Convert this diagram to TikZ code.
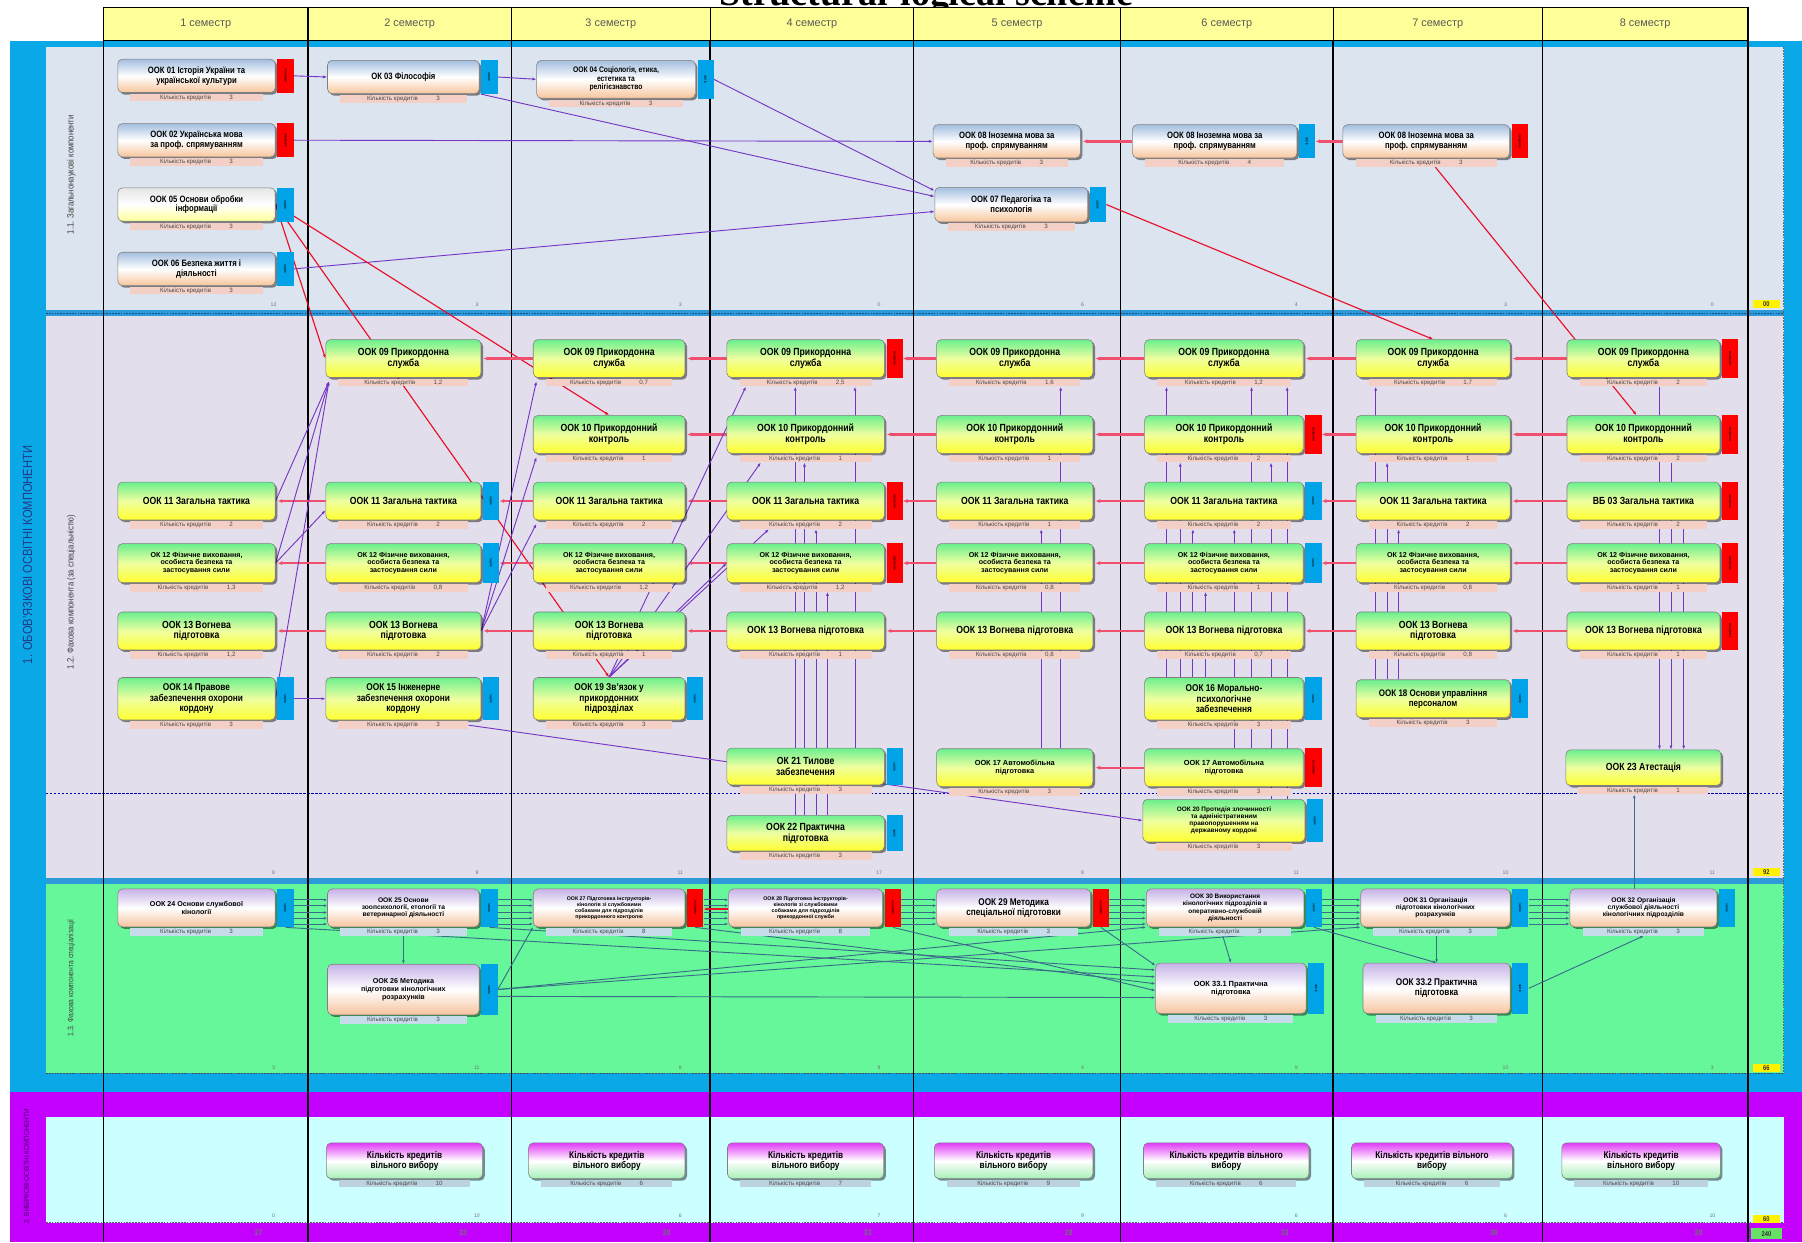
\documentclass[tikz,border=0pt]{standalone}
\usepackage{fontspec}
\usepackage{graphicx}
\setmainfont{Liberation Sans}
\newfontfamily\nf[FakeStretch=0.84]{Liberation Sans}
\newfontfamily\tfont{Liberation Serif}
\usetikzlibrary{arrows.meta,shadows,calc}
\pgfdeclarelayer{back}
\pgfdeclarelayer{lines}
\pgfsetlayers{back,lines,main}
\definecolor{colFrame}{HTML}{0AA8E6}
\definecolor{colA}{HTML}{DCE4EF}
\definecolor{colB}{HTML}{E3DEEC}
\definecolor{colC}{HTML}{66F79A}
\definecolor{colPurp}{HTML}{C400FF}
\definecolor{colD}{HTML}{CCFFFF}
\definecolor{colSep}{HTML}{2C9AD8}
\definecolor{colSepD}{HTML}{1A4F8A}
\definecolor{colHdr}{HTML}{FFFF99}
\definecolor{colLab}{HTML}{1F3C88}
\definecolor{colLab2}{HTML}{4A0066}
\definecolor{tagred}{HTML}{FF0000}
\definecolor{tagblue}{HTML}{00A2E8}
\definecolor{lnpurp}{HTML}{7436C4}
\definecolor{lnred}{HTML}{E8102A}
\definecolor{lnpink}{HTML}{F0506E}
\definecolor{lndark}{HTML}{3A6C8A}
\definecolor{cAtop}{HTML}{A3BEDF}
\definecolor{cAbot}{HTML}{F7C59C}
\definecolor{cBtop}{HTML}{6BEF8E}
\definecolor{cBmid}{HTML}{EFFFA0}
\definecolor{cBbot}{HTML}{FFFF2E}
\definecolor{cCtop}{HTML}{C6B2E6}
\definecolor{cCbot}{HTML}{F6C39E}
\definecolor{cDtop}{HTML}{E03CF5}
\definecolor{cDbot}{HTML}{A6F0B8}
\definecolor{colCredA}{HTML}{F3CFC6}
\definecolor{colCredB}{HTML}{C6DCEA}
\definecolor{colCredV}{HTML}{BCD2DE}
\definecolor{colTotG}{HTML}{66E066}
\newcommand\tagtexte{\rotatebox{-90}{\fontsize{3.2}{3.2}\selectfont екзамен}}
\newcommand\tagtextz{\rotatebox{-90}{\fontsize{3.2}{3.2}\selectfont залік}}
\newcommand\tagtextn{}
\tikzset{
 cbox/.style={rounded corners=4pt, draw=black!50, line width=0.5pt, align=center, inner sep=1pt, text=black,
   font=\nf\bfseries\fontsize{8}{8.6}\selectfont,
   drop shadow={shadow xshift=1.8pt, shadow yshift=-1.8pt, opacity=0.45, fill=black}},
 fs/.style 2 args={font=\nf\bfseries\fontsize{#1}{#2}\selectfont},
 fw/.style 2 args={font=\bfseries\fontsize{#1}{#2}\selectfont},
 genbox/.style={cbox, top color=cAtop, bottom color=cAbot, middle color=white},
 fahbox/.style={cbox, top color=cBtop, bottom color=cBbot, middle color=cBmid},
 spbox/.style={cbox, top color=cCtop, bottom color=cCbot, middle color=white},
 vbbox/.style={cbox, top color=cDtop, bottom color=cDbot, middle color=white},
 g29/.style={genbox, minimum height=29pt},
 f33/.style={fahbox, minimum height=33pt, fs={9}{9.4}},
 f37/.style={fahbox, minimum height=37pt, fs={8.6}{9}},
 f12/.style={fahbox, minimum height=34pt, fw={6.2}{6.8}},
 s33/.style={spbox, minimum height=33pt},
 s44/.style={spbox, minimum height=44pt},
 v31/.style={vbbox, minimum height=31pt, fs={8.5}{9}},
 credA/.style={fill=colCredA, inner sep=0.3pt, minimum height=6.5pt, font=\fontsize{5.4}{5.4}\selectfont, text=black!70},
 credB/.style={credA, fill=colCredB},
 credV/.style={credA, fill=colCredV},
 tage/.style={fill=tagred, inner sep=0pt, minimum width=14pt},
 tagz/.style={fill=tagblue, inner sep=0pt, minimum width=14pt},
 tagn/.style={inner sep=0pt, minimum width=0pt},
 hdrcell/.style={fill=colHdr, draw=black, line width=1pt, minimum height=29pt, font=\fontsize{9.5}{9.5}\selectfont, text=black!65},
 tot/.style={fill=yellow, inner sep=0.4pt, minimum width=24pt, minimum height=7pt, font=\nf\bfseries\fontsize{6}{6}\selectfont, text=black!80},
 cn/.style={font=\fontsize{4.5}{4.5}\selectfont, text=black!55, inner sep=0pt},
 bn/.style={font=\nf\bfseries\fontsize{7}{7}\selectfont, text=black!55, inner sep=0pt},
 pl/.style={draw=lnpurp, line width=0.8pt, -{Latex[length=3.5pt,width=2.6pt]}},
 rl/.style={draw=lnred, line width=1pt, -{Latex[length=3.5pt,width=2.8pt]}},
 rh/.style={draw=lnpink, line width=2pt, -{Latex[length=4pt,width=3.6pt]}},
 dl/.style={draw=lndark, line width=0.8pt, -{Latex[length=3pt,width=2.4pt]}},
 vlab/.style={rotate=90, inner sep=0pt}
}
% name, node style, strip style, x, y, width, text, credits, tag
\newcommand\crs[9]{%
 \node[#2, minimum width=#6pt] (#1) at (#4,#5) {#7};
 \node[#3, minimum width=#6pt-22pt, anchor=north] (#1c) at ([yshift=-0.8pt]#1.south) {Кількість кредитів\hspace{16pt}#8};
 \path let \p1=($(#1.north)-(#1.south)$) in node[tag#9, minimum height=\y1, anchor=west] (#1t) at ([xshift=1.5pt]#1.east) {\csname tagtext#9\endcsname};
}
\begin{document}
\begin{tikzpicture}[x=1pt,y=-1pt]
\useasboundingbox (0,0) rectangle (1568,1081);
\begin{pgfonlayer}{back}
 \fill[white] (0,0) rectangle (1568,1081);
 \fill[colFrame] (9,36) rectangle (1568,950);
 \fill[colA] (40,41) rectangle (1552,270);
 \fill[colSep] (40,270) rectangle (1552,275);
 \draw[colSepD, line width=0.7pt, dash pattern=on 1.5pt off 1pt] (40,272.5) -- (1552,272.5);
 \fill[colB] (40,275) rectangle (1552,764);
 \draw[blue!70!black, line width=0.5pt, dash pattern=on 2pt off 1.5pt] (40,690) -- (1552,690);
 \fill[colSep] (40,764) rectangle (1552,769);
 \fill[colC] (40,769) rectangle (1552,934);
 \draw[black!70, line width=0.6pt, dash pattern=on 1.5pt off 1pt] (40,934) -- (1552,934);
 \fill[colPurp] (9,950) rectangle (1568,1081);
 \fill[colD] (40,972) rectangle (1552,1064);
 \draw[black!60, line width=0.6pt, dash pattern=on 1.5pt off 1pt] (40,1064) -- (1552,1064);
 \draw[black!60, line width=0.5pt, dash pattern=on 1.5pt off 1pt] (1552,41) -- (1552,934);
 \foreach \xx in {90,268,445,618,795,975,1160,1342,1521} \draw[black, line width=1.3pt] (\xx,6) -- (\xx,1081);
\end{pgfonlayer}

% title (cut by the top edge)
\node[font=\tfont\bfseries\fontsize{33}{33}\selectfont, anchor=base, inner sep=0pt] (title) at (806,5) {Structural-logical scheme};

% header
\foreach \i/\xa/\xb in {1/90/268,2/268/445,3/445/618,4/618/795,5/795/975,6/975/1160,7/1160/1342,8/1342/1521}
 \node[hdrcell, minimum width=\xb-\xa] (s\i) at ({(\xa+\xb)/2},21) {\i\ семестр};

% section labels
\node[vlab, font=\nf\fontsize{11.5}{12}\selectfont, text=colLab] (L1) at (24,483) {1. ОБОВ’ЯЗКОВІ ОСВІТНІ КОМПОНЕНТИ};
\node[vlab, font=\nf\fontsize{8}{8}\selectfont, text=black!75] (L11) at (62,152) {1.1. Загальнонаукові компоненти};
\node[vlab, font=\nf\fontsize{8}{8}\selectfont, text=black!75] (L12) at (62,515) {1.2. Фахова компонента (за спеціальністю)};
\node[vlab, font=\nf\fontsize{7}{7}\selectfont, text=black!75] (L13) at (62,851) {1.3. Фахова компонента спеціалізації};
\node[vlab, font=\nf\fontsize{6.5}{6.5}\selectfont, text=colLab2] (L2) at (23,1015) {2. ВИБІРКОВІ ОСВІТНІ КОМПОНЕНТИ};

% ---------- 1.1
\crs{k01}{g29}{credA}{171}{66}{137}{ООК 01 Історія України та\\української культури}{3}{e}
\crs{k02}{g29}{credA}{171}{122}{137}{ООК 02 Українська мова\\за проф. спрямуванням}{3}{e}
\crs{k05}{g29, top color=black!10, bottom color=yellow!40, middle color=white}{credA}{171}{178}{137}{ООК 05 Основи обробки\\інформації}{3}{z}
\crs{k06}{g29}{credA}{171}{234}{137}{ООК 06 Безпека життя і\\діяльності}{3}{z}
\crs{k03}{g29}{credA}{351}{67}{132}{ОК 03 Філософія}{3}{z}
\crs{k04}{genbox, minimum height=33pt, fs={7}{7.5}}{credA}{536}{69}{138}{ООК 04 Соціологія, етика,\\естетика та\\релігієзнавство}{3}{z}
\crs{k08a}{g29}{credA}{876}{123}{128}{ООК 08 Іноземна мова за\\проф. спрямуванням}{3}{n}
\crs{k07}{genbox, minimum height=30pt}{credA}{880}{178}{133}{ООК 07 Педагогіка та\\психологія}{3}{z}
\crs{k08b}{g29}{credA}{1057}{123}{143}{ООК 08 Іноземна мова за\\проф. спрямуванням}{4}{z}
\crs{k08c}{g29}{credA}{1241}{123}{145}{ООК 08 Іноземна мова за\\проф. спрямуванням}{3}{e}

% ---------- 1.2 row 09
\crs{a2}{f33}{credA}{351}{312}{135}{ООК 09 Прикордонна\\служба}{1,2}{n}
\crs{a3}{f33}{credA}{530}{312}{132}{ООК 09 Прикордонна\\служба}{0,7}{n}
\crs{a4}{f33}{credA}{701}{312}{137}{ООК 09 Прикордонна\\служба}{2,5}{e}
\crs{a5}{f33}{credA}{883}{312}{136}{ООК 09 Прикордонна\\служба}{1,6}{n}
\crs{a6}{f33}{credA}{1065}{312}{138}{ООК 09 Прикордонна\\служба}{1,2}{n}
\crs{a7}{f33}{credA}{1247}{312}{134}{ООК 09 Прикордонна\\служба}{1,7}{n}
\crs{a8}{f33}{credA}{1430}{312}{133}{ООК 09 Прикордонна\\служба}{2}{e}
% row 10
\crs{b3}{f33}{credA}{530}{378}{132}{ООК 10 Прикордонний\\контроль}{1}{n}
\crs{b4}{f33}{credA}{701}{378}{137}{ООК 10 Прикордонний\\контроль}{1}{n}
\crs{b5}{f33}{credA}{883}{378}{136}{ООК 10 Прикордонний\\контроль}{1}{n}
\crs{b6}{f33}{credA}{1065}{378}{138}{ООК 10 Прикордонний\\контроль}{2}{e}
\crs{b7}{f33}{credA}{1247}{378}{134}{ООК 10 Прикордонний\\контроль}{1}{n}
\crs{b8}{f33}{credA}{1430}{378}{133}{ООК 10 Прикордонний\\контроль}{2}{e}
% row 11
\crs{c1}{f33}{credA}{171}{436}{137}{ООК 11 Загальна тактика}{2}{n}
\crs{c2}{f33}{credA}{351}{436}{135}{ООК 11 Загальна тактика}{2}{z}
\crs{c3}{f33}{credA}{530}{436}{132}{ООК 11 Загальна тактика}{2}{n}
\crs{c4}{f33}{credA}{701}{436}{137}{ООК 11 Загальна тактика}{2}{e}
\crs{c5}{f33}{credA}{883}{436}{136}{ООК 11 Загальна тактика}{1}{n}
\crs{c6}{f33}{credA}{1065}{436}{138}{ООК 11 Загальна тактика}{2}{z}
\crs{c7}{f33}{credA}{1247}{436}{134}{ООК 11 Загальна тактика}{2}{n}
\crs{c8}{f33}{credA}{1430}{436}{133}{ВБ 03 Загальна тактика}{2}{e}
% row 12
\crs{d1}{f12}{credA}{171}{490}{137}{ОК 12 Фізичне виховання,\\особиста безпека та\\застосування сили}{1,3}{n}
\crs{d2}{f12}{credA}{351}{490}{135}{ОК 12 Фізичне виховання,\\особиста безпека та\\застосування сили}{0,8}{z}
\crs{d3}{f12}{credA}{530}{490}{132}{ОК 12 Фізичне виховання,\\особиста безпека та\\застосування сили}{1,2}{n}
\crs{d4}{f12}{credA}{701}{490}{137}{ОК 12 Фізичне виховання,\\особиста безпека та\\застосування сили}{1,2}{e}
\crs{d5}{f12}{credA}{883}{490}{136}{ОК 12 Фізичне виховання,\\особиста безпека та\\застосування сили}{0,8}{n}
\crs{d6}{f12}{credA}{1065}{490}{138}{ОК 12 Фізичне виховання,\\особиста безпека та\\застосування сили}{1}{z}
\crs{d7}{f12}{credA}{1247}{490}{134}{ОК 12 Фізичне виховання,\\особиста безпека та\\застосування сили}{0,8}{n}
\crs{d8}{f12}{credA}{1430}{490}{133}{ОК 12 Фізичне виховання,\\особиста безпека та\\застосування сили}{1}{e}
% row 13
\crs{e1}{f33}{credA}{171}{549}{137}{ООК 13 Вогнева\\підготовка}{1,2}{n}
\crs{e2}{f33}{credA}{351}{549}{135}{ООК 13 Вогнева\\підготовка}{2}{n}
\crs{e3}{f33}{credA}{530}{549}{132}{ООК 13 Вогнева\\підготовка}{1}{n}
\crs{e4}{f33}{credA}{701}{549}{137}{ООК 13 Вогнева підготовка}{1}{n}
\crs{e5}{f33}{credA}{883}{549}{136}{ООК 13 Вогнева підготовка}{0,8}{n}
\crs{e6}{f33}{credA}{1065}{549}{138}{ООК 13 Вогнева підготовка}{0,7}{n}
\crs{e7}{f33}{credA}{1247}{549}{134}{ООК 13 Вогнева\\підготовка}{0,8}{n}
\crs{e8}{f33}{credA}{1430}{549}{133}{ООК 13 Вогнева підготовка}{1}{e}
% other rows
\crs{f14}{f37}{credA}{171}{608}{137}{ООК 14 Правове\\забезпечення охорони\\кордону}{3}{z}
\crs{f16}{f37}{credA}{351}{608}{135}{ООК 15 Інженерне\\забезпечення охорони\\кордону}{3}{z}
\crs{f19}{f37}{credA}{530}{608}{132}{ООК 19 Зв’язок у\\прикордонних\\підрозділах}{3}{z}
\crs{f16m}{f37}{credA}{1065}{608}{138}{ООК 16 Морально-\\психологічне\\забезпечення}{3}{z}
\crs{f18}{f33, fs={8.3}{8.8}}{credA}{1247}{608}{134}{ООК 18 Основи управління\\персоналом}{3}{z}
\crs{g21}{fahbox, minimum height=32pt, fs={9}{9.4}}{credA}{701}{667}{137}{ОК 21 Тилове\\забезпечення}{3}{z}
\crs{h22}{fahbox, minimum height=31pt, fs={9}{9.4}}{credA}{701}{725}{137}{ООК 22 Практична\\підготовка}{3}{z}
\crs{g17a}{fahbox, minimum height=33pt, fw={6.4}{7}}{credA}{883}{668}{136}{ООК 17 Автомобільна\\підготовка}{3}{n}
\crs{g17b}{fahbox, minimum height=33pt, fw={6.4}{7}}{credA}{1065}{668}{138}{ООК 17 Автомобільна\\підготовка}{3}{e}
\crs{h20}{fahbox, minimum height=37pt, fw={5.6}{6.2}}{credA}{1065}{714}{141}{ООК 20 Протидія злочинності\\та адміністративним\\правопорушенням на\\державному кордоні}{3}{z}
\crs{g20}{fahbox, minimum height=31pt, fs={9}{9.4}}{credA}{1430}{668}{135}{ООК 23 Атестація}{1}{n}

% ---------- 1.3
\crs{m24}{s33, fw={6.2}{7}}{credB}{171}{790}{137}{ООК 24 Основи службової\\кінології}{3}{z}
\crs{m25}{s33, fw={5.8}{6.4}}{credB}{351}{790}{132}{ООК 25 Основи\\зоопсихології, етології та\\ветеринарної діяльності}{3}{z}
\crs{m26}{s44, fw={6.2}{7}}{credB}{351}{861}{132}{ООК 26 Методика\\підготовки кінологічних\\розрахунків}{3}{z}
\crs{m27}{s33, fw={4.6}{5.1}}{credB}{530}{790}{132}{ООК 27 Підготовка інструкторів-\\кінологів зі службовими\\собаками для підрозділів\\прикордонного контролю}{8}{e}
\crs{m28}{s33, fw={4.6}{5.1}}{credB}{701}{790}{134}{ООК 28 Підготовка інструкторів-\\кінологів зі службовими\\собаками для підрозділів\\прикордонної служби}{8}{e}
\crs{m29}{s33, fs={8.5}{9}}{credB}{882}{790}{134}{ООК 29 Методика\\спеціальної підготовки}{3}{e}
\crs{m30}{s33, fw={5.6}{6.2}}{credB}{1066}{790}{137}{ООК 30 Використання\\кінологічних підрозділів в\\оперативно-службовій\\діяльності}{3}{z}
\crs{m31}{s33, fw={5.8}{6.4}}{credB}{1249}{790}{130}{ООК 31 Організація\\підготовки кінологічних\\розрахунків}{3}{z}
\crs{m32}{s33, fw={5.8}{6.4}}{credB}{1430}{790}{128}{ООК 32 Організація\\службової діяльності\\кінологічних підрозділів}{3}{z}
\crs{m331}{s44, fw={6.5}{7.2}}{credB}{1071}{860}{131}{ООК 33.1 Практична\\підготовка}{3}{z}
\crs{m332}{s44, fs={8.5}{9}}{credB}{1250}{860}{128}{ООК 33.2 Практична\\підготовка}{3}{z}

% ---------- 2
\crs{v2}{v31}{credV}{352}{1010}{136}{Кількість кредитів\\вільного вибору}{10}{n}
\crs{v3}{v31}{credV}{528}{1010}{136}{Кількість кредитів\\вільного вибору}{6}{n}
\crs{v4}{v31}{credV}{701}{1010}{136}{Кількість кредитів\\вільного вибору}{7}{n}
\crs{v5}{v31}{credV}{882}{1010}{138}{Кількість кредитів\\вільного вибору}{9}{n}
\crs{v6}{v31}{credV}{1067}{1010}{144}{Кількість кредитів вільного\\вибору}{6}{n}
\crs{v7}{v31}{credV}{1246}{1010}{140}{Кількість кредитів вільного\\вибору}{6}{n}
\crs{v8}{v31}{credV}{1428}{1010}{138}{Кількість кредитів\\вільного вибору}{10}{n}

% totals
\node[tot] (T1) at (1537,264.5) {00};
\node[tot] (T2) at (1537,759) {92};
\node[tot] (T3) at (1537,929) {66};
\node[tot] (T4) at (1537,1060.5) {60};
\node[tot, fill=colTotG, minimum width=27pt, minimum height=10pt] (T5) at (1537,1073.5) {240};

% column numbers
\foreach \xx/\va/\vb/\vc/\vd [count=\i] in {238/12/8/3/0, 415/3/9/11/10, 592/3/11/8/6, 765/0/17/8/7, 942/6/8/4/9, 1128/4/11/9/6, 1310/3/10/10/6, 1490/0/11/3/10} {
 \node[cn] (Na\i) at (\xx,265) {\va};
 \node[cn] (Nb\i) at (\xx,759) {\vb};
 \node[cn] (Nc\i) at (\xx,929) {\vc};
 \node[cn] (Nd\i) at (\xx,1058) {\vd};
}
\foreach \xx/\vv [count=\i] in {225/27, 403/33, 580/28, 755/33, 930/28, 1118/33, 1300/30, 1478/28}
 \node[bn] (B\i) at (\xx,1073) {\vv};

% ---------- connectors
\begin{pgfonlayer}{lines}
 % 1.1
 \draw[pl] (k01t.east) -- (k03.west);
 \draw[pl] (k03t.east) -- (k04.west);
 \draw[pl] (k02t.east) -- (k08a.west);
 \draw[pl] (k03t.south west) -- ([yshift=7pt]k07.west);
 \draw[pl] (k04t.east) -- ([yshift=12pt]k07.west);
 \draw[pl] (k06t.east) -- ([yshift=-6pt]k07.west);
 \draw[rh] (k08b.west) -- (k08at.east);
 \draw[rh] (k08c.west) -- (k08bt.east);
 % red diagonals
 \draw[rl] (k05.east) -- (a2.west);
 \draw[rl] (k05.east) -- (f19.north);
 \draw[rl] (k05.east) -- (b3.north);
 \draw[rl] (k07t.east) -- (a7.north);
 \draw[rl] ([xshift=8pt]k08cc.south) -- ([xshift=-6pt]b8.north);
 % red chains
 \foreach \ca/\cb in {2/3,3/4,4/5,5/6,6/7,7/8} \draw[rh] (a\cb.west) -- (a\ca t.east);
 \foreach \ca/\cb in {3/4,4/5,5/6,6/7,7/8} \draw[rh] (b\cb.west) -- (b\ca t.east);
 \foreach \rr in {c,d,e}
  \foreach \ca/\cb in {1/2,2/3,3/4,4/5,5/6,6/7,7/8} \draw[rh] (\rr\cb.west) -- (\rr\ca t.east);
 \draw[rh] (g17b.west) -- (g17at.east);
 % purple diagonals 1.2
 \coordinate (a2sw) at ([xshift=3pt,yshift=-3pt]a2.south west);
 \draw[pl] (c1.east) -- (a2sw);
 \draw[pl] (d1.east) -- (a2sw);
 \draw[pl] (f14.east) -- (a2sw);
 \draw[pl] (d1.east) -- ([yshift=-8pt]c2.west);
 \draw[pl] (f14t.east) -- (f16.west);
 \draw[pl] (f16c.east) -- (h20.west);
 \draw[pl] (e2.east) -- ([xshift=3pt,yshift=-3pt]a3.south west);
 \draw[pl] (e2.east) -- ([xshift=3pt,yshift=-3pt]b3.south west);
 \draw[pl] (e2.east) -- ([xshift=3pt,yshift=-3pt]c3.south west);
 \draw[pl] (f19.north) -- ([xshift=-52pt]a4c.south);
 \draw[pl] (f19.north) -- ([xshift=-39pt]b4c.south);
 \draw[pl] (f19.north) -- ([xshift=-32pt]c4c.south);
 \draw[pl] (f19.north) -- (d4.west);
 % verticals
 \foreach \dx/\tg in {-9/a4c,-1/b4c,9/c4c,19/d4c} \draw[pl] ([xshift=\dx pt]h22.north) -- ([xshift=\dx pt]\tg.south);
 \draw[pl] ([xshift=43pt]g21.north) -- ([xshift=43pt]a4c.south);
 \draw[pl] ([xshift=40pt]g17a.north) -- ([xshift=40pt]a5c.south);
 \draw[pl] ([xshift=23pt]g17a.north) -- ([xshift=23pt]c5c.south);
 \foreach \dx/\tg in {-50/a6c,-38/b6c,-27/c6c,-16/d6c} \draw[pl] ([xshift=\dx pt]f16m.north) -- ([xshift=\dx pt]\tg.south);
 \foreach \dx/\tg in {9/c6c,24/a6c} \draw[pl] ([xshift=\dx pt]g17b.north) -- ([xshift=\dx pt]\tg.south);
 \foreach \dx/\tg in {41/b6c,55/a6c} \draw[pl] ([xshift=\dx pt]h20.north) -- ([xshift=\dx pt]\tg.south);
 \foreach \dx/\tg in {-50/a7c,-40/b7c,-30/c7c} \draw[pl] ([xshift=\dx pt]f18.north) -- ([xshift=\dx pt]\tg.south);
 \foreach \dx/\tg in {14/a8c,24/b8c,35/c8c} \draw[pl] ([xshift=\dx pt]\tg.south) -- ([xshift=\dx pt]g20.north);
 \draw[dl] ([xshift=-8pt]m32.north) -- ([xshift=-8pt]g20c.south);
 % 1.3
 \foreach \ca/\cb in {m24/m25,m25/m27,m27/m28,m28/m29,m29/m30,m30/m31,m31/m32}
  \foreach \sh in {7,2,-4,-9,-14}
   \draw[dl] ([yshift=\sh pt]\ca t.east) -- ([yshift=\sh pt]\cb.west);
 \draw[rl] ([yshift=-1pt]m28.west) -- ([yshift=-1pt]m27t.east);
 \draw[dl] (m24t.south) -- ([yshift=10pt]m331.west);
 \draw[dl] (m25t.south) -- ([yshift=16pt]m331.west);
 \draw[dl] (m26t.east) -- (m27.south west);
 \draw[dl] (m26t.east) -- (m30.south west);
 \draw[dl] (m26t.east) -- (m31.south west);
 \draw[dl] ([yshift=-6pt]m26t.east) -- ([yshift=-8pt]m331.west);
 \draw[dl] (m27t.south) -- ([yshift=4pt]m331.west);
 \draw[dl] (m28t.south) -- ([yshift=-2pt]m331.west);
 \draw[dl] (m29t.south) -- ([yshift=20pt]m331.west);
 \draw[dl] (m30t.south) -- (m332.north);
 \draw[dl] (m332t.east) -- (m32c.south);
 \draw[dl] (m25c.south) -- (m26.north);
 \draw[dl] ([xshift=-2pt]m30c.south) -- (m331.north);
 \draw[dl] ([xshift=1pt]m31c.south) -- (m332.north);
\end{pgfonlayer}
\end{tikzpicture}
\end{document}
